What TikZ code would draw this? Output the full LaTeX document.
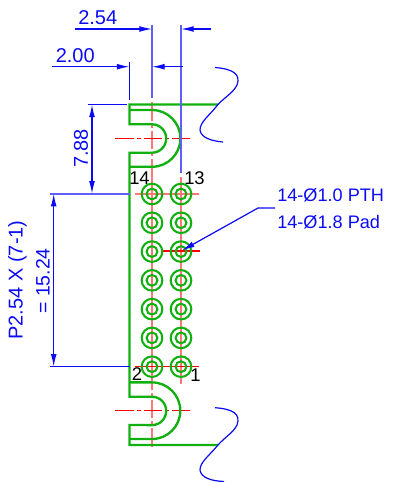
\documentclass[tikz,border=0pt]{standalone}
\usepackage{fontspec}
\setmainfont{Liberation Sans}
\usetikzlibrary{arrows.meta}
\definecolor{gr}{HTML}{10B010}
\definecolor{bl}{HTML}{0A0AF5}
\definecolor{pk}{HTML}{FF7878}
\tikzset{
 body/.style={draw=gr,line width=1.75pt},
 hole/.style={draw=gr,line width=1.55pt},
 cline/.style={draw=red,line width=0.85pt},
 cpink/.style={draw=pk,line width=1.1pt},
 dd/.style={draw=red,line width=0.85pt,dash pattern=on 14pt off 2.2pt on 3pt off 2.2pt},
 ddp/.style={draw=pk,line width=1.1pt,dash pattern=on 14pt off 2.2pt on 3pt off 2.2pt},
 dim/.style={draw=bl,line width=0.9pt},
 dimx/.style={draw=bl!65!white,line width=1.25pt},
 dima/.style={dim,{Latex[length=9.5pt,width=4.4pt]}-{Latex[length=9.5pt,width=4.4pt]}},
 tipb/.style={dim,-{Latex[length=9.5pt,width=4.4pt]}},
 btxt/.style={text=bl,inner sep=0pt,font=\fontsize{15}{18}\selectfont},
 ktxt/.style={text=black,inner sep=0pt,font=\fontsize{13.8}{16}\selectfont},
 vtxt/.style={btxt,rotate=90},
}
\begin{document}
\begin{tikzpicture}[x=0.75pt,y=-0.75pt]
\useasboundingbox (0,0) rectangle (402,482);
% centre lines
\draw[ddp] (152,102) -- (152,178);
\draw[cpink] (152,178) -- (152,380);
\draw[cpink] (181,177) -- (181,384);
\draw[ddp] (152,447) -- (152,380);
\draw[dd] (115,138.5) -- (190,138.5);
\draw[dd] (115,410.7) -- (190,410.7);
\draw[cpink] (135,194) -- (199,194);
\draw[cline] (135,366.7) -- (199,366.7);
\draw[cline] (162,251) -- (200,251);
% holes
\foreach \cx in {152,181}{
  \foreach \i in {0,...,6}{
    \pgfmathsetmacro{\cy}{194+28.78*\i}
    \draw[hole] (\cx,\cy) circle[radius=10.3];
    \draw[hole] (\cx,\cy) circle[radius=5.4];
  }
}
% body
\draw[body] (218,104.5) -- (129.5,104.5) -- (129.5,124.3) -- (152,124.3)
  arc[start angle=90,end angle=-90,x radius=14.2,y radius=-14.2] -- (129.5,152.7) -- (129.5,396.7) -- (152,396.7)
  arc[start angle=90,end angle=-90,x radius=14.2,y radius=-14.2] -- (129.5,425) -- (129.5,445) -- (218,445);
\draw[body] (129.5,110) -- (152,110)
  arc[start angle=90,end angle=-90,x radius=28.4,y radius=-28.4] -- (129.5,166.8);
\draw[body] (129.5,439) -- (152,439)
  arc[start angle=-90,end angle=90,x radius=28.3,y radius=-28.3] -- (129.5,382.4);
% squiggles
\coordinate (sa) at (215,67.5);
\coordinate (sb) at (218,104.5);
\coordinate (sc) at (223,142);
\draw[dim] (sa) .. controls (233,69) and (241,74) .. (237,85) .. controls (233,93) and (225,97) .. (sb)
  .. controls (209,116) and (200,122) .. (200,130) .. controls (201,138) and (212,141) .. (sc);
\coordinate (sd) at (215,407.7);
\coordinate (se) at (218,445);
\coordinate (sf) at (224,481.5);
\draw[dim] (sd) .. controls (233,409) and (241,414) .. (237,425) .. controls (233,433) and (225,437) .. (se)
  .. controls (209,456) and (200,462) .. (200,470) .. controls (201,478) and (212,481) .. (sf);
% dimensions
\coordinate (e1a) at (152,25); \coordinate (e1b) at (152,98);
\coordinate (e2a) at (181,25); \coordinate (e2b) at (181,173);
\coordinate (e3a) at (129.5,62); \coordinate (e3b) at (129.5,100);
\draw[dimx] (e1a) -- (e1b);
\draw[dimx] (e2a) -- (e2b);
\draw[dim] (e3a) -- (e3b);
\coordinate (d1a) at (75,29); \coordinate (d1b) at (211,29);
\coordinate (d1c) at (152,29); \coordinate (d1d) at (181,29);
\draw[tipb] (d1a) -- (d1c);
\draw[tipb] (d1b) -- (d1d);
\coordinate (d2a) at (52,66.7); \coordinate (d2b) at (183,66.7);
\coordinate (d2c) at (129.5,66.7); \coordinate (d2d) at (152,66.7);
\draw[tipb] (d2a) -- (d2c);
\draw[tipb] (d2b) -- (d2d);
\coordinate (h1a) at (88,104.5); \coordinate (h1b) at (127,104.5);
\coordinate (h2a) at (50,193.7); \coordinate (h2b) at (130,193.7);
\coordinate (h3a) at (50,366.7); \coordinate (h3b) at (130,366.7);
\draw[dim] (h1a) -- (h1b);
\draw[dimx] (h2a) -- (h2b);
\draw[dim] (h3a) -- (h3b);
\coordinate (v1a) at (92,104.5); \coordinate (v1b) at (92,193.7);
\coordinate (v2a) at (53.7,193.7); \coordinate (v2b) at (53.7,366.7);
\draw[dima] (v1a) -- (v1b);
\draw[dima] (v2a) -- (v2b);
% leader
\coordinate (l1) at (275,208); \coordinate (l2) at (258,208); \coordinate (l3) at (182,250.5);
\draw[tipb] (l1) -- (l2) -- (l3);
% text
\node[btxt,anchor=west] (t254) at (78,18) {2.54};
\node[btxt,anchor=west] (t200) at (55.5,55.5) {2.00};
\node[vtxt] (t788) at (81,148.5) {7.88};
\node[vtxt] (tp) at (17.5,280) {P2.54 X (7-1)};
\node[vtxt,font=\fontsize{14.6}{18}\selectfont] (teq) at (43,281) {= 15.24};
\node[btxt,anchor=west,font=\fontsize{13.6}{16}\selectfont] (tpth) at (277,195) {14-Ø1.0 PTH};
\node[btxt,anchor=west,font=\fontsize{13.6}{16}\selectfont] (tpad) at (277,222) {14-Ø1.8 Pad};
\node[ktxt] (n14) at (139.5,178) {14};
\node[ktxt] (n13) at (194.5,178) {13};
\node[ktxt] (n2) at (137,374.5) {2};
\node[ktxt] (n1) at (195.5,375.5) {1};
\end{tikzpicture}
\end{document}
